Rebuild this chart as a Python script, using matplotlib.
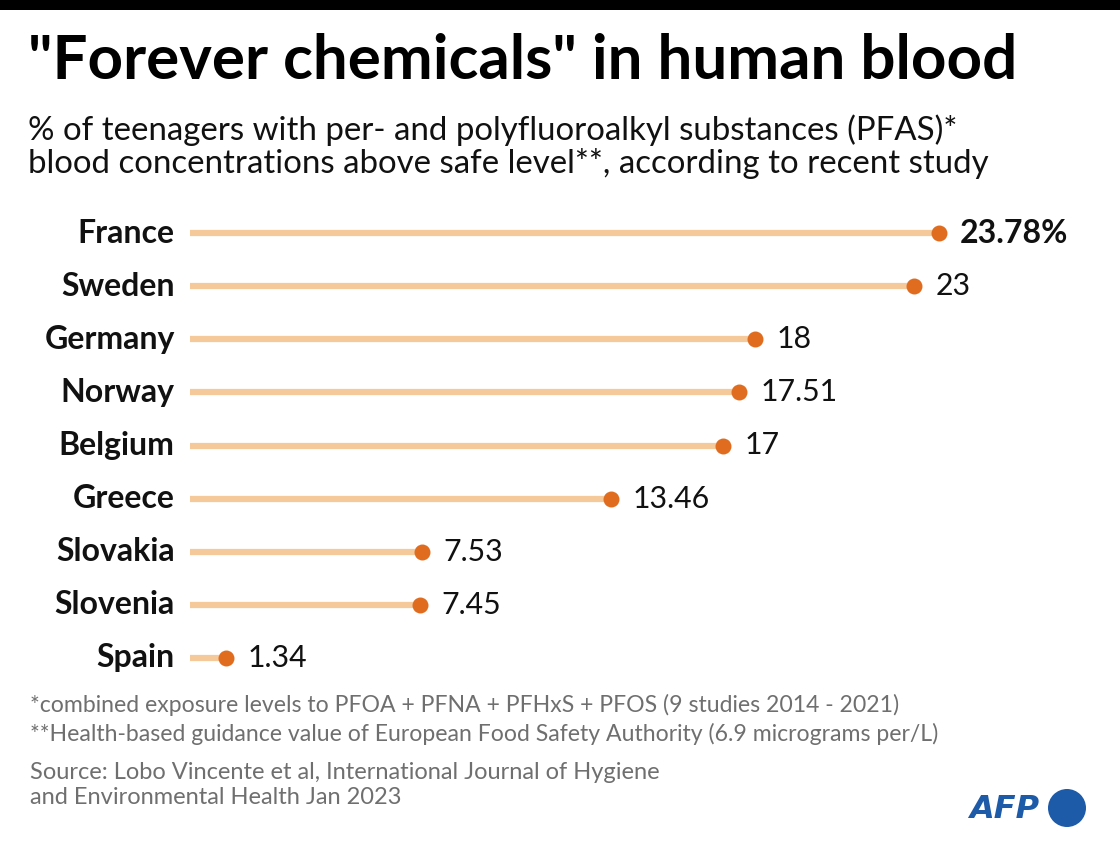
import matplotlib
matplotlib.use("Agg")
import matplotlib.pyplot as plt
from matplotlib.patches import Ellipse, Rectangle

countries = ["France", "Sweden", "Germany", "Norway", "Belgium", "Greece", "Slovakia", "Slovenia", "Spain"]
values = [23.78, 23, 18, 17.51, 17, 13.46, 7.53, 7.45, 1.34]
value_labels = ["23.78%", "23", "18", "17.51", "17", "13.46", "7.53", "7.45", "1.34"]

title = '"Forever chemicals" in human blood'
subtitle = ("% of teenagers with per- and polyfluoroalkyl substances (PFAS)*\n"
            "blood concentrations above safe level**, according to recent study")
notes = ["*combined exposure levels to PFOA + PFNA + PFHxS + PFOS (9 studies 2014 - 2021)",
         "**Health-based guidance value of European Food Safety Authority (6.9 micrograms per/L)"]
source = "Source: Lobo Vincente et al, International Journal of Hygiene\nand Environmental Health Jan 2023"

W, H = 1120, 848
FONT = "Lato"
plt.rcParams["font.family"] = [FONT, "DejaVu Sans"]

fig = plt.figure(figsize=(W / 100, H / 100), dpi=100)
fig.patch.set_facecolor("white")

def fx(px):
    return px / W

def fy(py):
    return 1 - py / H

# top black bar
fig.add_artist(Rectangle((0, fy(10)), 1, 10 / H, transform=fig.transFigure,
                         facecolor="black", edgecolor="none"))

fig.text(fx(28), fy(61), title, fontsize=44.6, fontweight="bold", va="center", ha="left",
         color="black")
fig.text(fx(28), fy(147), subtitle, fontsize=23.8, va="center", ha="left", color="#111111",
         linespacing=1.08)

# lollipop axes
ax = fig.add_axes([fx(183), fy(684.5), fx(889.6), 478 / H])
ax.set_xlim(0, 28)
ax.set_ylim(len(countries) - 0.5, -0.5)
ax.axis("off")

line_col = "#F6C99B"
dot_col = "#E06D1F"
for i, (c, v, lab) in enumerate(zip(countries, values, value_labels)):
    ax.plot([0.22, v], [i, i], color=line_col, lw=4.5, solid_capstyle="butt", zorder=1)
    ax.plot([v], [i], "o", color=dot_col, ms=11.5, mec="none", zorder=2)
    ax.annotate(lab, (v, i), xytext=(15.5, 0), textcoords="offset points",
                va="center", ha="left", fontsize=23 if i == 0 else 21.8,
                fontweight="bold" if i == 0 else "normal", color="#111111")
    ax.annotate(c, (0, i), xytext=(-6, 0), textcoords="offset points",
                va="center", ha="right", fontsize=23, fontweight="bold", color="#111111")

gray = "#6f6f6f"
fig.text(fx(30), fy(705), notes[0], fontsize=16.6, va="center", ha="left", color=gray)
fig.text(fx(30), fy(734), notes[1], fontsize=16.6, va="center", ha="left", color=gray)
fig.text(fx(30), fy(785), source, fontsize=17, va="center", ha="left", color=gray,
         linespacing=1.2)

# AFP logo
afp_blue = "#1D5AA8"
fig.text(fx(1039), fy(809), "AFP", fontsize=23, fontweight="bold", style="oblique",
         family="DejaVu Sans", va="center", ha="right", color=afp_blue)
fig.add_artist(Ellipse((fx(1067), fy(808)), 38 / W, 38 / H, transform=fig.transFigure,
                       facecolor=afp_blue, edgecolor="none"))

fig.savefig("out.png", dpi=100, facecolor="white")
